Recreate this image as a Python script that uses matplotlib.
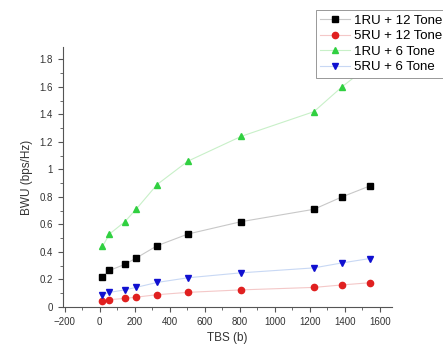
import matplotlib.pyplot as plt
from matplotlib.ticker import MultipleLocator, FormatStrFormatter

plt.rcParams['font.family'] = ['Liberation Sans', 'DejaVu Sans']

tbs = [16, 56, 144, 208, 328, 504, 808, 1224, 1384, 1544]
ru1_12 = [0.22, 0.265, 0.31, 0.355, 0.445, 0.53, 0.62, 0.71, 0.80, 0.88]
ru5_12 = [0.044, 0.053, 0.062, 0.071, 0.089, 0.106, 0.124, 0.142, 0.16, 0.176]
ru1_6 = [0.44, 0.53, 0.62, 0.71, 0.89, 1.06, 1.24, 1.42, 1.60, 1.76]
ru5_6 = [0.088, 0.106, 0.124, 0.142, 0.178, 0.212, 0.248, 0.284, 0.32, 0.352]

fig = plt.figure(figsize=(4.43, 3.48), dpi=100)
ax = fig.add_axes([0.142, 0.118, 0.743, 0.747])

ax.plot(tbs, ru1_12, color='#c8c8c8', lw=0.8, marker='s', ms=4.5,
        mfc='black', mec='black', label='1RU + 12 Tone')
ax.plot(tbs, ru5_12, color='#f4c8c8', lw=0.8, marker='o', ms=4.5,
        mfc='#e02020', mec='#e02020', label='5RU + 12 Tone')
ax.plot(tbs, ru1_6, color='#c8f0c8', lw=0.8, marker='^', ms=4.5,
        mfc='#30d040', mec='#30d040', label='1RU + 6 Tone')
ax.plot(tbs, ru5_6, color='#c8d8f4', lw=0.8, marker='v', ms=4.5,
        mfc='#1010d0', mec='#1010d0', label='5RU + 6 Tone')

ax.set_xlim(-210, 1670)
ax.set_ylim(0, 1.89)
ax.xaxis.set_major_locator(MultipleLocator(200))
ax.xaxis.set_minor_locator(MultipleLocator(100))
ax.yaxis.set_major_locator(MultipleLocator(0.2))
ax.yaxis.set_minor_locator(MultipleLocator(0.1))
ax.yaxis.set_major_formatter(FormatStrFormatter('%g'))

for s in ['top', 'right']:
    ax.spines[s].set_visible(False)
for s in ['left', 'bottom']:
    ax.spines[s].set_color('#555555')
    ax.spines[s].set_linewidth(0.8)
ax.tick_params(which='both', direction='out', colors='#555555', labelsize=7,
               labelcolor='#333333')
ax.tick_params(which='major', length=3.5)
ax.tick_params(which='minor', length=2)

ax.set_xlabel('TBS (b)', fontsize=8.5, color='#333333', labelpad=4)
ax.set_ylabel('BWU (bps/Hz)', fontsize=8.5, color='#333333', labelpad=5)

leg = ax.legend(loc='upper left', bbox_to_anchor=(0.713, 0.972),
                bbox_transform=fig.transFigure, fontsize=9.5, frameon=True,
                fancybox=False, framealpha=1, edgecolor='#888888',
                handlelength=2.2, handletextpad=0.35, labelspacing=0.25,
                borderpad=0.35, borderaxespad=0)
leg.get_frame().set_linewidth(0.6)

fig.savefig('out.png', dpi=100)
